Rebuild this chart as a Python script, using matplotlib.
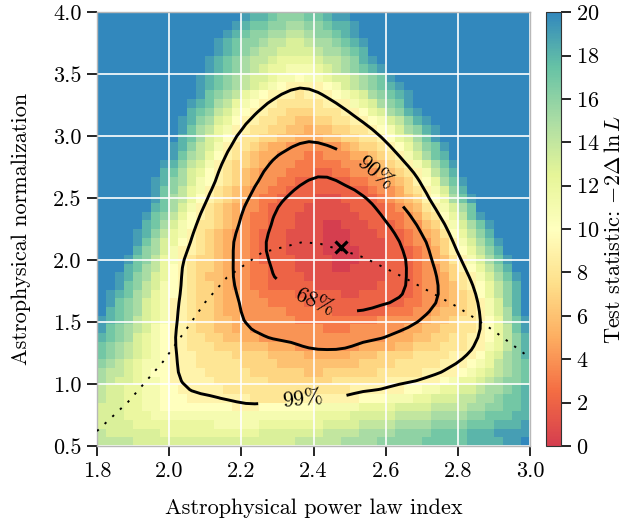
import numpy as np
import matplotlib
matplotlib.use("Agg")
import matplotlib.pyplot as plt
from matplotlib.colors import LinearSegmentedColormap
from matplotlib.ticker import FormatStrFormatter

plt.rcParams.update({
    "font.family": "serif",
    "font.serif": ["cmr10"],
    "mathtext.fontset": "cm",
    "axes.formatter.use_mathtext": True,
    "font.size": 16,
})

# scan grid (cell edges)
gamma_edges = np.linspace(1.8, 3.0, 49)
norm_edges = np.linspace(0.5, 4.0, 51)

# test statistic per cell, run-length coded: "<value code>*<count>"
# codes 0-9 -> 0-9, a-k -> 10-20 ; rows start at the lowest normalization
TS_CODES = "0123456789abcdefghijk"
ts_rows = [
    "e*4 d*18 e*5 f*4 g*5 h*5 i*4 j*2 k*1",
    "e*1 d*6 c*11 d*7 e*4 f*4 g*4 h*4 i*3 j*4",
    "d*4 c*9 b*5 c*7 d*4 e*4 f*4 g*4 h*3 i*3 j*1",
    "d*3 c*3 b*18 c*4 d*5 e*4 f*4 g*2 h*3 i*2",
    "d*3 c*2 b*2 a*8 9*3 a*6 b*5 c*4 d*4 e*4 f*2 g*2 h*2 i*1",
    "e*1 d*2 c*2 b*2 a*3 9*7 8*4 9*8 a*3 b*3 c*2 d*3 e*2 f*2 g*1 h*2 i*1",
    "e*1 d*2 c*2 b*2 a*2 9*5 8*14 9*6 a*2 b*2 c*2 d*2 e*1 f*2 g*1 h*1 i*1",
    "f*1 e*1 d*2 c*1 b*2 a*1 9*5 8*6 7*7 8*6 9*6 a*1 b*1 c*2 d*1 e*1 f*1 g*2 h*1",
    "f*1 e*2 d*1 c*1 b*1 a*2 9*4 8*5 7*6 6*2 7*6 8*5 9*4 a*1 b*1 c*1 d*1 e*1 f*1 g*1 h*1",
    "g*1 f*1 e*1 d*1 c*1 b*2 a*1 9*3 8*5 7*4 6*9 7*4 8*5 9*3 a*1 b*1 c*1 e*1 f*1 g*1 h*1",
    "h*1 g*1 f*1 e*1 d*1 c*1 b*1 a*1 9*3 8*4 7*4 6*4 5*5 6*3 7*4 8*4 9*3 a*1 c*1 d*1 f*1 g*1 i*1",
    "h*1 g*1 f*1 e*1 d*1 c*1 b*1 a*1 9*2 8*3 7*3 6*3 5*3 4*7 5*4 6*2 7*3 8*3 9*2 b*1 c*1 e*1 g*1 i*1",
    "i*1 h*1 g*1 f*1 d*1 c*1 b*1 a*1 9*2 8*2 7*2 6*2 5*2 4*14 5*3 6*2 7*2 8*2 9*2 a*1 c*1 e*1 g*1 i*1",
    "j*1 h*1 g*1 f*1 e*1 d*1 b*1 a*1 9*2 8*1 7*2 6*2 5*2 4*8 3*3 4*6 5*2 6*2 7*2 8*2 9*1 a*1 c*1 e*1 h*1 j*1",
    "j*1 i*1 h*1 g*1 e*1 d*1 c*1 b*1 9*2 8*1 7*2 6*2 5*1 4*6 3*9 4*5 5*1 6*2 7*1 8*2 9*1 a*1 c*1 f*1 h*1 j*1",
    "k*1 i*1 h*1 g*1 f*1 d*1 c*1 b*1 9*2 8*1 7*2 6*1 5*2 4*5 3*5 2*6 3*3 4*2 5*1 6*2 7*1 8*1 9*1 b*1 d*1 f*1 i*1 k*1",
    "k*1 j*1 h*1 g*1 f*1 d*1 c*1 b*1 9*2 8*1 7*2 6*1 5*2 4*3 3*4 2*11 3*2 4*2 5*1 6*1 7*1 8*1 9*1 b*1 d*1 g*1 i*1 k*1",
    "k*1 j*1 i*1 h*1 f*1 e*1 c*1 b*1 a*1 9*1 8*1 7*2 6*1 5*2 4*2 3*4 2*5 1*2 2*6 3*1 4*2 5*1 6*1 7*1 8*1 a*1 c*1 e*1 g*1 i*1 k*1",
    "k*2 j*1 h*1 g*1 e*1 d*1 b*1 a*1 9*1 8*1 7*2 6*1 5*1 4*2 3*2 2*5 1*7 2*4 3*1 4*2 5*1 6*1 8*1 9*1 a*1 c*1 e*1 g*1 i*1 k*1",
    "k*2 j*1 i*1 g*1 f*1 d*1 c*1 a*1 9*1 8*1 7*1 6*2 5*1 4*2 3*2 2*4 1*9 2*3 3*1 4*2 5*1 7*1 8*1 9*1 b*1 d*1 f*1 h*1 j*1 k*1",
    "k*3 i*1 h*1 f*1 e*1 c*1 a*1 9*1 8*1 7*2 6*1 5*1 4*2 3*2 2*3 1*4 0*2 1*4 2*3 3*1 4*2 6*1 7*1 9*1 a*1 c*1 e*1 g*1 i*1 k*2",
    "k*3 j*1 h*1 g*1 e*1 c*1 b*1 9*1 8*1 7*2 6*1 5*1 4*2 3*1 2*4 1*4 0*3 1*3 2*3 3*1 4*1 5*1 6*1 8*1 9*1 b*1 d*1 f*1 h*1 j*1 k*2",
    "k*4 i*1 g*1 f*1 d*1 b*1 9*2 8*1 7*1 6*1 5*1 4*2 3*1 2*3 1*4 0*4 1*3 2*3 3*1 4*1 5*1 7*1 9*1 a*1 c*1 e*1 g*1 i*1 k*3",
    "k*4 j*1 h*1 f*1 d*1 c*1 a*1 9*1 8*1 7*1 6*1 5*1 4*2 3*1 2*3 1*4 0*3 1*4 2*2 3*1 4*2 6*1 7*1 9*1 b*1 d*1 f*1 h*1 j*1 k*3",
    "k*4 j*1 i*1 g*1 e*1 c*1 b*1 9*1 8*1 7*1 6*1 5*1 4*2 3*1 2*3 1*4 0*3 1*3 2*3 3*1 4*1 5*1 6*1 8*1 a*1 c*1 e*1 g*1 i*1 k*4",
    "k*5 i*1 h*1 f*1 d*1 b*1 a*1 8*2 7*1 6*1 5*1 4*1 3*2 2*3 1*3 0*2 1*3 2*3 3*1 4*2 6*1 7*1 9*1 b*1 d*1 f*1 h*1 j*1 k*4",
    "k*5 j*1 h*1 g*1 e*1 c*1 a*1 9*1 8*1 7*1 6*1 5*1 4*1 3*2 2*3 1*7 2*3 3*2 4*1 5*1 7*1 8*1 a*1 c*1 e*1 h*1 j*1 k*5",
    "k*6 i*1 h*1 f*1 d*1 b*1 9*1 8*1 7*1 6*1 5*1 4*2 3*1 2*4 1*5 2*4 3*1 4*1 5*1 6*1 8*1 9*1 b*1 d*1 f*1 h*1 k*6",
    "k*6 j*1 h*1 f*1 e*1 c*1 a*1 9*1 8*1 7*1 6*1 5*1 4*1 3*2 2*4 1*3 2*4 3*1 4*1 5*1 6*1 7*1 9*1 a*1 c*1 f*1 h*1 j*1 k*6",
    "k*6 j*1 h*1 g*1 e*1 c*1 b*1 9*1 8*1 7*1 6*1 5*1 4*2 3*2 2*9 3*1 4*2 5*1 7*1 8*1 9*1 b*1 d*1 g*1 i*1 k*7",
    "k*6 j*1 i*1 g*1 f*1 d*1 b*1 a*1 9*1 8*1 7*1 6*1 5*1 4*2 3*2 2*6 3*2 4*2 5*1 6*1 7*1 9*1 a*1 c*1 f*1 h*1 j*1 k*7",
    "k*7 i*1 h*1 f*1 d*1 c*1 a*1 9*1 8*1 7*1 6*1 5*1 4*3 3*3 2*2 3*2 4*3 5*1 6*1 7*1 8*1 9*1 b*1 e*1 g*1 i*1 k*8",
    "k*7 j*1 i*1 g*1 e*1 d*1 b*1 9*1 8*1 7*2 6*1 5*1 4*3 3*5 4*3 5*1 6*1 7*1 8*1 9*1 b*1 d*1 f*1 h*1 j*1 k*8",
    "k*8 j*1 h*1 f*1 e*1 c*1 a*1 9*1 8*1 7*1 6*1 5*2 4*3 3*2 4*3 5*2 6*1 7*1 8*1 9*1 b*1 d*1 f*1 h*1 i*1 k*9",
    "k*8 j*1 i*1 g*1 e*1 d*1 b*1 9*1 8*2 7*1 6*1 5*2 4*6 5*1 6*1 7*2 8*1 9*1 a*1 c*1 e*1 g*1 h*1 j*1 k*9",
    "k*9 i*1 h*1 f*1 d*1 c*1 a*1 9*1 8*2 7*2 6*2 5*3 6*2 7*2 8*2 9*1 a*1 c*1 d*1 f*1 h*1 j*1 k*10",
    "k*9 j*1 h*1 f*1 e*1 c*1 b*1 9*2 8*2 7*2 6*2 5*1 6*2 7*2 8*2 9*1 a*1 b*1 d*1 f*1 g*1 i*1 j*1 k*10",
    "k*9 j*1 i*1 g*1 f*1 d*1 c*1 a*1 9*2 8*2 7*2 6*2 7*2 8*2 9*2 a*1 b*1 d*1 e*1 g*1 i*1 j*1 k*11",
    "k*10 i*1 h*1 g*1 e*1 d*1 b*1 a*1 9*2 8*2 7*3 8*3 9*2 a*1 c*1 d*1 f*1 g*1 i*1 j*1 k*12",
    "k*10 j*1 i*1 h*1 f*1 e*1 c*1 b*1 a*1 9*2 8*5 9*3 b*1 c*1 d*1 f*1 g*1 h*1 j*1 k*13",
    "k*11 j*1 h*1 g*1 f*1 e*1 c*1 b*1 a*1 9*3 8*1 9*3 a*1 b*1 c*1 d*1 f*1 g*1 h*1 i*1 j*1 k*13",
    "k*11 j*1 i*1 h*1 g*1 f*1 e*1 d*1 c*1 b*1 a*1 9*4 a*1 b*1 d*1 e*1 f*1 g*1 h*1 i*1 j*1 k*14",
    "k*11 j*1 i*1 h*1 g*1 f*1 e*1 d*2 c*1 b*2 a*1 b*2 c*1 d*2 e*1 f*1 g*1 h*1 j*1 k*15",
    "k*12 j*1 i*1 h*1 g*1 f*1 e*1 d*1 c*2 b*3 c*1 d*1 e*1 f*1 g*1 h*1 i*1 j*1 k*16",
    "k*12 j*1 i*1 h*1 g*1 f*1 e*2 d*1 c*4 d*1 e*2 f*1 g*1 i*1 j*1 k*17",
    "k*13 j*1 i*1 h*1 g*1 f*1 e*2 d*4 e*1 f*2 g*1 h*1 i*1 k*18",
    "k*13 j*1 i*1 h*1 g*2 f*1 e*2 d*2 e*1 f*2 g*1 h*1 i*1 j*1 k*18",
    "k*14 j*1 i*1 h*1 g*2 f*2 e*2 f*1 g*2 h*1 i*1 j*1 k*19",
    "k*15 j*1 i*1 h*2 g*2 f*2 g*2 h*1 i*2 j*1 k*19",
    "k*16 j*1 i*2 h*1 g*3 h*2 i*1 j*2 k*20",
]

# confidence levels for two parameters
cl_levels = [2.30, 4.61, 9.21]
cl_names = ["68%", "90%", "99%"]
cl_label_pos = [(2.40, 1.65), (2.576, 2.726), (2.37, 0.847)]

best_fit = (2.476, 2.105)

# dotted reference curve
ref_gamma = [1.80, 1.886, 1.983, 2.052, 2.10, 2.16, 2.257, 2.37, 2.42, 2.51,
             2.54, 2.65, 2.80, 2.897, 3.0]
ref_norm = [0.62, 0.855, 1.18, 1.46, 1.66, 1.86, 2.06, 2.145, 2.13, 2.05,
            2.02, 1.86, 1.62, 1.435, 1.21]

gamma_ticks = [1.8, 2.0, 2.2, 2.4, 2.6, 2.8, 3.0]
norm_ticks = [0.5, 1.0, 1.5, 2.0, 2.5, 3.0, 3.5, 4.0]


def decode_row(row):
    vals = []
    for tok in row.split():
        code, n = tok.split("*")
        vals += [TS_CODES.index(code)] * int(n)
    assert len(vals) == len(gamma_edges) - 1, (row, len(vals))
    return vals


def smooth(a, passes=1):
    # small binomial filter so the contour lines don't follow the cell steps
    k = np.array([1, 4, 6, 4, 1]) / 16.0
    ny, nx = a.shape
    for _ in range(passes):
        p = np.pad(a, 2, mode="edge")
        a = sum(k[i] * p[i:i + ny, 2:2 + nx] for i in range(5))
        p = np.pad(a, 2, mode="edge")
        a = sum(k[i] * p[2:2 + ny, i:i + nx] for i in range(5))
    return a


ts = np.array([decode_row(r) for r in ts_rows], dtype=float)
gamma_c = 0.5 * (gamma_edges[1:] + gamma_edges[:-1])
norm_c = 0.5 * (norm_edges[1:] + norm_edges[:-1])

spectral9 = ["#d53e4f", "#f46d43", "#fdae61", "#fee08b", "#ffffbf",
             "#e6f598", "#abdda4", "#66c2a5", "#3288bd"]
cmap = LinearSegmentedColormap.from_list("spectral9", spectral9)

fig = plt.figure(figsize=(6.34, 5.29), dpi=100)
ax = fig.add_axes([0.153, 0.157, 0.683, 0.820])
cax = fig.add_axes([0.861, 0.157, 0.0237, 0.820])

mesh = ax.pcolormesh(gamma_edges, norm_edges, ts, cmap=cmap, vmin=0, vmax=20,
                     shading="flat", zorder=0)

cs = ax.contour(gamma_c, norm_c, smooth(ts), levels=cl_levels, colors="k",
                linewidths=2.1, zorder=3)
ax.clabel(cs, fmt=dict(zip(cl_levels, cl_names)), inline=True,
          inline_spacing=24, fontsize=16, manual=cl_label_pos)

ax.plot(ref_gamma, ref_norm, color="k", lw=1.4, ls=(0, (1.2, 4.2)), zorder=3)
ax.plot(*best_fit, marker="x", color="k", ms=9, mew=2.3, zorder=4)

ax.set_xlim(1.8, 3.0)
ax.set_ylim(0.5, 4.0)
ax.set_xticks(gamma_ticks)
ax.set_yticks(norm_ticks)
ax.xaxis.set_major_formatter(FormatStrFormatter("%.1f"))
ax.yaxis.set_major_formatter(FormatStrFormatter("%.1f"))
ax.grid(True, color="white", lw=1.2, zorder=1)
ax.tick_params(direction="out", length=7, width=1.2, colors="k", pad=4)
for sp in ax.spines.values():
    sp.set_color("#b8b8b8")
    sp.set_linewidth(1.0)
ax.set_xlabel("Astrophysical power law index", labelpad=13)
ax.set_ylabel("Astrophysical normalization", labelpad=16)

cbar = fig.colorbar(mesh, cax=cax, ticks=list(range(0, 21, 2)))
cbar.set_label(r"Test statistic: $-2\Delta\,\ln L$", labelpad=3)
cbar.outline.set_edgecolor("#333333")
cbar.ax.tick_params(direction="out", length=7, width=1.2, pad=4)

fig.savefig("out.png", dpi=100)
